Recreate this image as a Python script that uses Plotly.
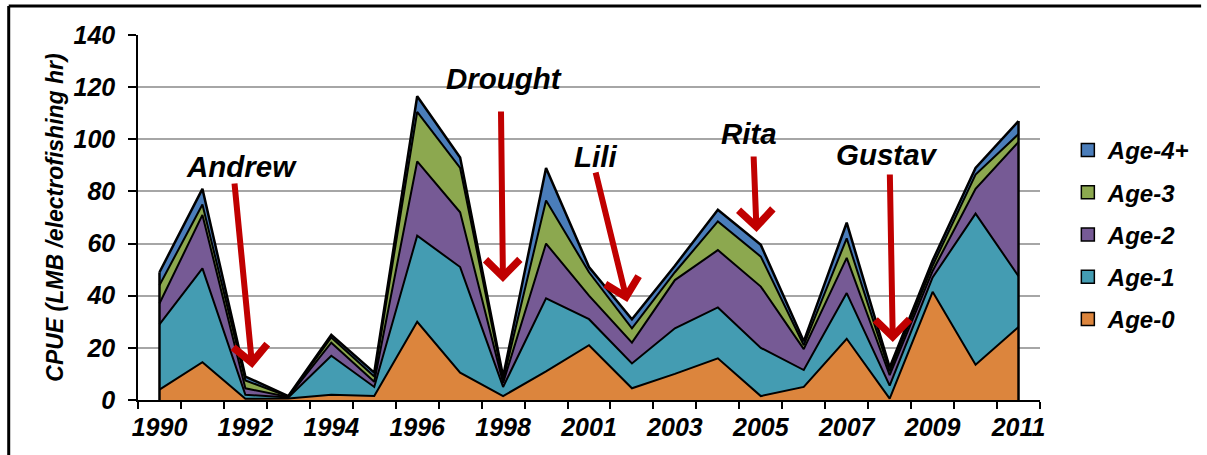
import plotly.graph_objects as go

# ---------------- data ----------------
years = ["1990", "1991", "1992", "1993", "1994", "1995", "1996", "1997", "1998", "2000",
         "2001", "2002", "2003", "2004", "2005", "2006", "2007", "2008", "2009", "2010", "2011"]
age0 = [4, 14.5, 0.5, 0.6, 2, 1.5, 30, 10.5, 1.5, 11, 21, 4.5, 10, 16, 1.5, 5, 23.5, 0.5, 41.5, 13.5, 28]
age1 = [25, 36, 1.5, 0.4, 15, 3.5, 33, 40.5, 3.5, 28, 10, 9.5, 17.5, 19.5, 18.5, 6.5, 17.5, 5, 5.5, 58, 19.5]
age2 = [8, 20.5, 2.5, 0.2, 5, 2, 28.5, 21, 1.5, 21, 9, 8, 18.5, 22, 23.5, 8, 13.5, 4, 2.5, 9.5, 51.5]
age3 = [7, 4, 3, 0.1, 2, 2, 19, 17, 1, 16.5, 9, 5.5, 3, 11, 11.5, 1.5, 7.5, 1.5, 2, 5.5, 3]
age4 = [5, 6, 1.5, 0.2, 1, 1.5, 6, 4, 1.5, 12.5, 2, 3.5, 2.5, 4.5, 4.5, 1.5, 6, 1.5, 2, 2.5, 5]
series_names = ["Age-0", "Age-1", "Age-2", "Age-3", "Age-4+"]
tick_labels = years[::2]
events = ["Andrew", "Drought", "Lili", "Rita", "Gustav"]

# ---------------- style ----------------
colors = ["#DC853D", "#449CB2", "#765A95", "#8CA84F", "#4A7DBA"]
FONT = "Liberation Sans, Arial, sans-serif"
W, H = 1207, 455
PL, PR, PT, PB = 138, 1045, 35, 400  # plot area in pixels


def px_x(px):
    return (px - PL) / (PR - PL)


def px_y(py):
    return (PB - py) / (PB - PT)


series = [age0, age1, age2, age3, age4]
xidx = list(range(len(years)))
totals = [sum(v) for v in zip(*series)]

fig = go.Figure()
for k, (name, vals, col) in enumerate(zip(series_names, series, colors)):
    fig.add_trace(go.Scatter(
        x=xidx, y=vals, name=name, mode="lines", stackgroup="one",
        line=dict(color="black", width=2.5 if k == len(series) - 1 else 2), fillcolor=col,
        showlegend=False, hoverinfo="skip"))

# vertical outline at both ends of the stack
for i in (0, len(years) - 1):
    fig.add_trace(go.Scatter(x=[xidx[i], xidx[i]], y=[0, totals[i]], mode="lines",
                             line=dict(color="black", width=2.5),
                             showlegend=False, hoverinfo="skip"))

# legend entries (square swatches), top entry = Age-4+
n = len(series_names)
for k, (name, col) in enumerate(zip(series_names, colors)):
    fig.add_trace(go.Scatter(
        x=[None], y=[None], name=name, mode="markers", legendgroup=f"g{k}",
        legendrank=100 + (n - k),
        marker=dict(symbol="square", size=13, color=col, line=dict(color="black", width=1.5))))

# ---------------- annotations ----------------
text_pos = {"Andrew": (242, 166), "Drought": (506, 79), "Lili": (598, 156),
            "Rita": (752, 133), "Gustav": (891, 154)}
arrows = {"Andrew": ((253, 368), (235, 182)), "Drought": ((505, 282), (503, 110)),
          "Lili": ((630, 302), (598, 171)), "Rita": ((760, 232), (757, 155)),
          "Gustav": ((897, 342), (894, 173))}
annotations = []
for ev in events:
    tx, ty = text_pos[ev]
    annotations.append(dict(
        x=px_x(tx), y=px_y(ty), xref="paper", yref="paper", text=ev, showarrow=False,
        xanchor="center", yanchor="middle",
        font=dict(family=FONT, size=29.5, color="black", weight="bold", style="italic")))
    (hx, hy), (tlx, tly) = arrows[ev]
    annotations.append(dict(
        x=px_x(hx), y=px_y(hy), xref="paper", yref="paper", text="",
        showarrow=True, axref="pixel", ayref="pixel", ax=tlx - hx, ay=tly - hy,
        arrowhead=4, arrowsize=1.1, arrowwidth=6, arrowcolor="#C00000", standoff=0))

shapes = [
    dict(type="line", xref="paper", yref="paper", x0=px_x(8), x1=px_x(1207),
         y0=px_y(6), y1=px_y(6), line=dict(color="black", width=3)),
    dict(type="line", xref="paper", yref="paper", x0=px_x(8), x1=px_x(8),
         y0=px_y(6), y1=px_y(455), line=dict(color="black", width=3)),
]

tickfont = dict(family=FONT, size=25, color="black", weight="bold", style="italic")

fig.update_layout(
    width=W, height=H, autosize=False,
    margin=dict(l=PL, r=W - PR, t=PT, b=H - PB, pad=0),
    paper_bgcolor="white", plot_bgcolor="white",
    font=dict(family=FONT, color="black"),
    showlegend=True,
    legend=dict(x=px_x(1073), y=px_y(128), xanchor="left", yanchor="top",
                traceorder="grouped", tracegroupgap=8,
                font=dict(family=FONT, size=24, color="black", weight="bold", style="italic"),
                bgcolor="rgba(0,0,0,0)", itemwidth=30),
    annotations=annotations, shapes=shapes,
    xaxis=dict(range=[-0.5, len(years) - 0.5], tickmode="array",
               tickvals=xidx[::2], ticktext=tick_labels, ticks="",
               showgrid=False, zeroline=False, showline=True, linecolor="black", linewidth=1.5,
               tickfont=tickfont, ticklabelstandoff=4,
               minor=dict(ticks="outside", tick0=-0.5, dtick=1, ticklen=7,
                          tickcolor="black", tickwidth=1.5, showgrid=False)),
    yaxis=dict(range=[0, 140], dtick=20, tick0=0, ticks="outside", ticklen=8,
               tickcolor="black", tickwidth=1.5, showline=True, linecolor="black", linewidth=1.5,
               showgrid=True, gridcolor="#A6A6A6", gridwidth=1.5, zeroline=False,
               tickfont=tickfont, ticklabelstandoff=8,
               title=dict(text="CPUE (LMB /electrofishing hr)", standoff=3,
                          font=dict(family=FONT, size=23, color="black", weight="bold", style="italic"))),
)

fig.write_html("out.html", config={"displayModeBar": False},
               post_script="document.body.style.margin='0';")
